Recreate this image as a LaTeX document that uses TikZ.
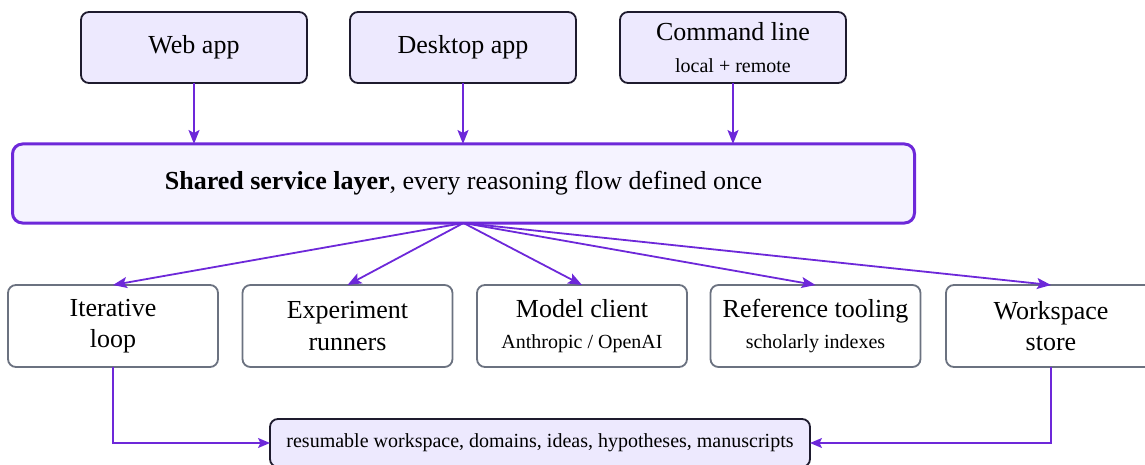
\documentclass[tikz,border=0pt]{standalone}
\usepackage{fontspec}
\setmainfont{Liberation Serif}
\usetikzlibrary{arrows.meta}
\definecolor{flowpurple}{HTML}{6D28D9}
\definecolor{topfill}{HTML}{EDE9FE}
\definecolor{svcfill}{HTML}{F5F3FF}
\definecolor{darkborder}{HTML}{1E1B2E}
\definecolor{grayborder}{HTML}{6B7280}
\newcommand{\mainsize}{\rmfamily\fontsize{26}{31.5}\selectfont}
\newcommand{\subsize}{\rmfamily\fontsize{20}{24}\selectfont}
\begin{document}
\begin{tikzpicture}[x=1pt,y=-1pt,
  basebox/.style={rounded corners=8pt, inner sep=0pt, outer sep=0pt, align=center, font=\mainsize},
  topbox/.style={basebox, draw=darkborder, fill=topfill, line width=1.8pt, minimum width=226pt, minimum height=71pt},
  svcbox/.style={basebox, rounded corners=10pt, draw=flowpurple, fill=svcfill, line width=3pt, minimum width=902pt, minimum height=79pt},
  modbox/.style={basebox, draw=grayborder, fill=white, line width=1.8pt, minimum width=210pt, minimum height=82pt},
  storebox/.style={basebox, draw=darkborder, fill=topfill, line width=1.8pt, minimum width=540pt, minimum height=48pt, font=\subsize},
  flow/.style={draw=flowpurple, line width=1.8pt, -{Stealth[length=14pt,width=11pt,inset=3pt]}},
  feed/.style={draw=flowpurple, line width=1.5pt, -{Stealth[length=12pt,width=10pt,inset=2.5pt]}}
]
\useasboundingbox (0,0) rectangle (1145,465);

\node[topbox] (web) at (194,47.5) {Web app};
\node[topbox] (desk) at (463,47.5) {Desktop app};
\node[topbox] (cli) at (733,47.5) {Command line\\[1pt]{\subsize local + remote}};

\node[svcbox] (svc) at (463.5,183.5) {\textbf{Shared service layer}, every reasoning flow defined once};

\node[modbox] (loop) at (113,326) {Iterative\\loop};
\node[modbox] (runners) at (347.5,326) {Experiment\\runners};
\node[modbox] (model) at (582,326) {Model client\\{\subsize Anthropic / OpenAI}};
\node[modbox] (refs) at (815.5,326) {Reference tooling\\{\subsize scholarly indexes}};
\node[modbox] (wstore) at (1051,326) {Workspace\\store};

\node[storebox] (store) at (540,443) {resumable workspace, domains, ideas, hypotheses, manuscripts};

\draw[flow] (web.south) -- (web.south |- svc.north);
\draw[flow] (desk.south) -- (desk.south |- svc.north);
\draw[flow] (cli.south) -- (cli.south |- svc.north);

\draw[flow] (svc.south) -- (loop.north);
\draw[flow] (svc.south) -- (runners.north);
\draw[flow] (svc.south) -- (model.north);
\draw[flow] (svc.south) -- (refs.north);
\draw[flow] (svc.south) -- (wstore.north);

\draw[feed] (loop.south) |- (store.west);
\draw[feed] (wstore.south) |- (store.east);
\end{tikzpicture}
\end{document}
